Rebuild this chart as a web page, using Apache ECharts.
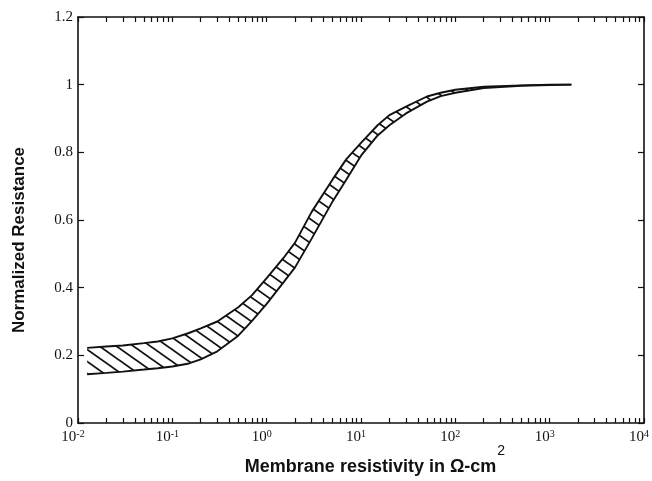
<!DOCTYPE html>
<html>
<head>
<meta charset="utf-8">
<script src="https://cdn.jsdelivr.net/npm/echarts@6/dist/echarts.min.js"></script>
<style>
  html, body { margin: 0; padding: 0; background: #fff; }
  #main { width: 652px; height: 481px; }
</style>
</head>
<body>
<div id="main"></div>
<script>
// membrane resistivity (ohm-cm^2)
var resistivity = [0.0125, 0.02, 0.03, 0.05, 0.07, 0.1, 0.15, 0.2, 0.3, 0.5, 0.7,
  1, 1.5, 2, 3, 5, 7, 10, 15, 20, 30, 50, 70, 100, 200, 500, 1000, 1700];
var upperBound = [0.222, 0.226, 0.229, 0.236, 0.241, 0.25, 0.266, 0.28, 0.30, 0.342, 0.378,
  0.428, 0.487, 0.533, 0.624, 0.72, 0.78, 0.828, 0.88, 0.91, 0.935, 0.965, 0.976, 0.985, 0.994, 0.998, 1.0, 1.0];
var lowerBound = [0.144, 0.148, 0.152, 0.158, 0.162, 0.167, 0.176, 0.188, 0.212, 0.258, 0.302,
  0.352, 0.415, 0.46, 0.545, 0.655, 0.72, 0.79, 0.85, 0.88, 0.915, 0.95, 0.966, 0.976, 0.99, 0.997, 0.999, 1.0];

// tick positions on the log axis: decades and their 1..9 multiples
var decades = [0.01, 0.1, 1, 10, 100, 1000];
var multiples = [1, 2, 3, 4, 5, 6, 7, 8, 9];

var ink = '#111';

var tickValues = [];
decades.forEach(function (d) {
  multiples.forEach(function (m) { tickValues.push(d * m); });
});
tickValues.push(10000);

// hatch pattern for the band
function hatch() {
  var w = 17, h = 12;
  var c = document.createElement('canvas');
  c.width = w; c.height = h;
  var ctx = c.getContext('2d');
  ctx.strokeStyle = ink;
  ctx.lineWidth = 1.8;
  [-w, 0, w].forEach(function (dx) {
    ctx.beginPath();
    ctx.moveTo(dx - w, -h);
    ctx.lineTo(dx + 2 * w, 2 * h);
    ctx.stroke();
  });
  return c;
}
var hatchFill = { image: hatch(), repeat: 'repeat' };

var upperData = resistivity.map(function (x, i) { return [x, upperBound[i]]; });
var lowerData = resistivity.map(function (x, i) { return [x, lowerBound[i]]; });

var serif = 'Liberation Serif';
var tickLabel = {
  fontFamily: serif,
  fontSize: 15,
  color: ink,
  margin: 6,
  padding: [0, 10, 0, 0],
  formatter: function (v) {
    return '{b|10}{s|' + Math.round(Math.log10(v)) + '}';
  },
  rich: {
    b: { fontFamily: serif, fontSize: 15, color: ink },
    s: { fontFamily: serif, fontSize: 10, color: ink, verticalAlign: 'top', padding: [0, 0, 6, 0] }
  }
};

function logAxis(pos) {
  return {
    type: 'log',
    logBase: 10,
    min: 0.01,
    max: 10000,
    position: pos,
    axisLine: { onZero: false, lineStyle: { color: ink, width: 1.6 } },
    axisTick: { show: true, inside: true, length: 5, customValues: tickValues, lineStyle: { color: ink, width: 1.2 } },
    axisLabel: { show: false },
    splitLine: { show: false }
  };
}
function valAxis(pos) {
  return {
    type: 'value',
    min: 0,
    max: 1.2,
    interval: 0.2,
    position: pos,
    axisLine: { show: true, onZero: false, lineStyle: { color: ink, width: 1.6 } },
    axisTick: { show: true, inside: true, length: 6, lineStyle: { color: ink, width: 1.2 } },
    axisLabel: { show: false },
    splitLine: { show: false }
  };
}

var xBottom = logAxis('bottom');
xBottom.axisLabel = tickLabel;
xBottom.name = '{m|Membrane resistivity in Ω-cm}{s|2}';
xBottom.nameLocation = 'middle';
xBottom.nameGap = 21;
xBottom.nameMoveOverlap = false;
xBottom.nameTextStyle = {
  padding: [0, 0, 0, 28],
  rich: {
    m: { fontFamily: 'Liberation Sans', fontWeight: 'bold', fontSize: 18, color: ink, verticalAlign: 'bottom' },
    s: { fontFamily: 'Liberation Sans', fontSize: 14, color: ink, verticalAlign: 'top', padding: [0, 0, 18, 1] }
  }
};

var yLeft = valAxis('left');
yLeft.axisLabel = { fontFamily: serif, fontSize: 15, color: ink, margin: 5 };
yLeft.name = 'Normalized Resistance';
yLeft.nameLocation = 'middle';
yLeft.nameRotate = 90;
yLeft.nameGap = 50;
yLeft.nameTextStyle = { fontFamily: 'Liberation Sans', fontWeight: 'bold', fontSize: 17, color: ink, padding: [0, 40, 0, 0] };

var chart = echarts.init(document.getElementById('main'));
chart.setOption({
  animation: false,
  grid: { left: 78, right: 8, top: 17, bottom: 58, outerBoundsMode: 'none', containLabel: false },
  xAxis: [xBottom, logAxis('top')],
  yAxis: [yLeft, valAxis('right')],
  series: [
    {
      name: 'band',
      type: 'custom',
      data: upperData,
      renderItem: function (params, api) {
        if (params.dataIndex !== 0) return null;
        var pts = [];
        for (var i = 0; i < resistivity.length; i++) {
          pts.push(api.coord([resistivity[i], upperBound[i]]));
        }
        for (var j = resistivity.length - 1; j >= 0; j--) {
          pts.push(api.coord([resistivity[j], lowerBound[j]]));
        }
        return { type: 'polygon', shape: { points: pts }, style: { fill: hatchFill, stroke: null } };
      }
    },
    {
      name: 'upper',
      type: 'line',
      xAxisIndex: 1,
      data: upperData,
      showSymbol: false,
      lineStyle: { color: ink, width: 1.9 }
    },
    {
      name: 'lower',
      type: 'line',
      data: lowerData,
      showSymbol: false,
      lineStyle: { color: ink, width: 1.9 }
    }
  ]
});
</script>
</body>
</html>
